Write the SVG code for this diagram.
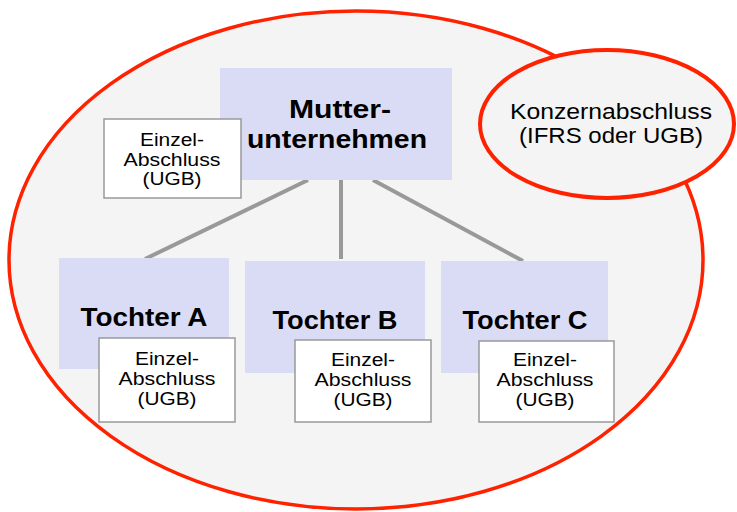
<svg xmlns="http://www.w3.org/2000/svg" width="737" height="512" viewBox="0 0 737 512">
<style>
.bg{fill:#ffffff}
.outer{fill:#f4f4f4;stroke:#ff2200;stroke-width:3.5}
.node{fill:#dadcf5}
.box{fill:#ffffff;stroke:#999999;stroke-width:1.5}
.con{stroke:#999999;stroke-width:4;fill:none}
.t{font-family:"Liberation Sans",Arial,sans-serif;text-anchor:middle;fill:#000}
.b{font-weight:bold;font-size:26px}
.s{font-size:18px}
.k{font-size:22px}
</style>
<rect class="bg" x="0" y="0" width="737" height="512"/>
<g id="konzern-grenze">
<ellipse class="outer" cx="356" cy="260" rx="347" ry="249"/>
</g>
<g id="connectors">
<line class="con" x1="308" y1="180" x2="145" y2="259"/>
<line class="con" x1="341" y1="180" x2="341" y2="259"/>
<line class="con" x1="373" y1="180" x2="523" y2="261"/>
</g>
<g id="mutter">
<rect class="node" x="220" y="68" width="232" height="112"/>
<text class="t b" x="340" y="118" textLength="102" lengthAdjust="spacingAndGlyphs">Mutter-</text>
<text class="t b" x="337" y="148" textLength="180" lengthAdjust="spacingAndGlyphs">unternehmen</text>
</g>
<g id="mutter-einzel">
<rect class="box" x="104" y="119" width="137" height="79"/>
<text class="t s" x="172" y="146" textLength="64" lengthAdjust="spacingAndGlyphs">Einzel-</text>
<text class="t s" x="172" y="166" textLength="97" lengthAdjust="spacingAndGlyphs">Abschluss</text>
<text class="t s" x="172" y="185" textLength="59" lengthAdjust="spacingAndGlyphs">(UGB)</text>
</g>
<g id="konzernabschluss">
<ellipse class="outer" cx="607" cy="124" rx="127" ry="74" style="stroke-width:4"/>
<text class="t k" x="611" y="119" textLength="202" lengthAdjust="spacingAndGlyphs">Konzernabschluss</text>
<text class="t k" x="611" y="143" textLength="184" lengthAdjust="spacingAndGlyphs">(IFRS oder UGB)</text>
</g>
<g id="tochter-a">
<rect class="node" x="59" y="258" width="170" height="111"/>
<text class="t b" x="144" y="326" textLength="127" lengthAdjust="spacingAndGlyphs">Tochter A</text>
</g>
<g id="tochter-a-einzel">
<rect class="box" x="99" y="338" width="136" height="84"/>
<text class="t s" x="167" y="365" textLength="64" lengthAdjust="spacingAndGlyphs">Einzel-</text>
<text class="t s" x="167" y="385" textLength="97" lengthAdjust="spacingAndGlyphs">Abschluss</text>
<text class="t s" x="167" y="405" textLength="59" lengthAdjust="spacingAndGlyphs">(UGB)</text>
</g>
<g id="tochter-b">
<rect class="node" x="245" y="261" width="180" height="112"/>
<text class="t b" x="335" y="329" textLength="125" lengthAdjust="spacingAndGlyphs">Tochter B</text>
</g>
<g id="tochter-b-einzel">
<rect class="box" x="295" y="340" width="136" height="82"/>
<text class="t s" x="363" y="366" textLength="64" lengthAdjust="spacingAndGlyphs">Einzel-</text>
<text class="t s" x="363" y="386" textLength="97" lengthAdjust="spacingAndGlyphs">Abschluss</text>
<text class="t s" x="363" y="406" textLength="59" lengthAdjust="spacingAndGlyphs">(UGB)</text>
</g>
<g id="tochter-c">
<rect class="node" x="441" y="261" width="167" height="112"/>
<text class="t b" x="525" y="329" textLength="125" lengthAdjust="spacingAndGlyphs">Tochter C</text>
</g>
<g id="tochter-c-einzel">
<rect class="box" x="479" y="341" width="135" height="81"/>
<text class="t s" x="545" y="366" textLength="64" lengthAdjust="spacingAndGlyphs">Einzel-</text>
<text class="t s" x="545" y="386" textLength="97" lengthAdjust="spacingAndGlyphs">Abschluss</text>
<text class="t s" x="545" y="406" textLength="59" lengthAdjust="spacingAndGlyphs">(UGB)</text>
</g>
</svg>
